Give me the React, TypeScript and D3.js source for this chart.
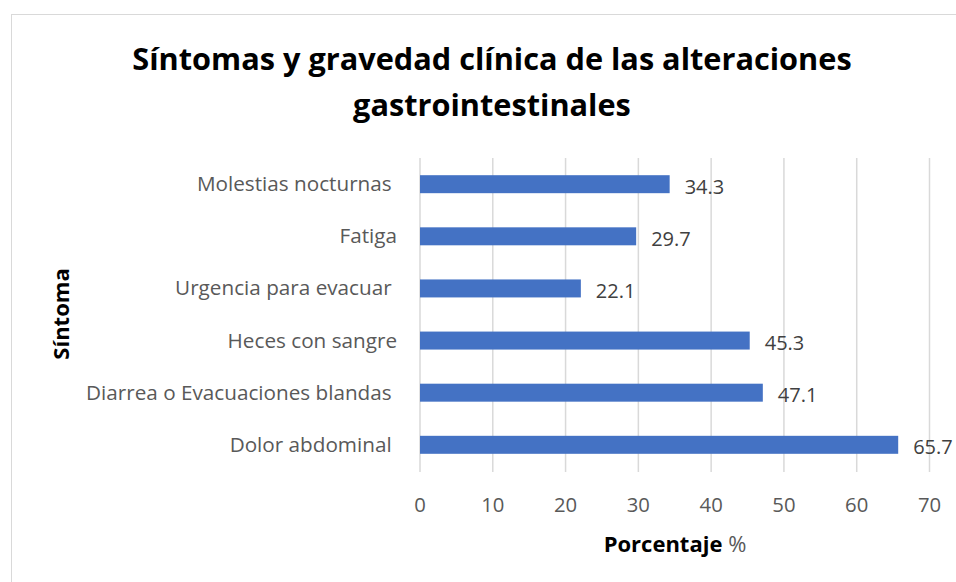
import React from "react";
import * as d3 from "d3";

const categories = [
  "Molestias nocturnas ",
  "Fatiga",
  "Urgencia para evacuar ",
  "Heces con sangre",
  "Diarrea o Evacuaciones blandas ",
  "Dolor abdominal ",
];
const values = [34.3, 29.7, 22.1, 45.3, 47.1, 65.7];
const ticks = [0, 10, 20, 30, 40, 50, 60, 70];

const W = 956;
const H = 582;
const FONT = "'Open Sans', sans-serif";

export default function App() {
  const x = d3.scaleLinear().domain([0, 70]).range([420, 929.5]);
  const y = d3.scaleBand<string>().domain(categories).range([158, 471]).paddingInner(0.655).paddingOuter(0.33);

  return (
    <svg width={W} height={H} style={{ position: "absolute", left: 0, top: 0 }}>
      <rect x={0} y={0} width={W} height={H} fill="#fff" />
      <rect x={11.5} y={14.5} width={W + 10} height={H + 10} fill="#fff" stroke="#d9d9d9" strokeWidth={1} />
      <text x={492} y={70} textAnchor="middle" fontFamily={FONT} fontWeight="bold" fontSize={30.7} fill="#000">
        Síntomas y gravedad clínica de las alteraciones
      </text>
      <text x={492} y={116} textAnchor="middle" fontFamily={FONT} fontWeight="bold" fontSize={30.7} fill="#000">
        gastrointestinales
      </text>
      {ticks.map((t) => (
        <g key={t}>
          <line x1={x(t)} x2={x(t)} y1={158} y2={472} stroke="#d9d9d9" strokeWidth={1.5} />
          <text x={x(t)} y={512} textAnchor="middle" fontFamily={FONT} fontSize={20.3} fill="#595959">
            {t}
          </text>
        </g>
      ))}
      {categories.map((c, i) => (
        <g key={c}>
          <rect x={x(0)} y={y(c)!} width={x(values[i]) - x(0)} height={y.bandwidth()} fill="#4472c4" />
          <text
            x={397}
            y={y(c)! + y.bandwidth() / 2 + 7}
            textAnchor="end"
            fontFamily={FONT}
            fontSize={20.7}
            fill="#595959"
            style={{ whiteSpace: "pre" }}
          >
            {c}
          </text>
          <text x={x(values[i]) + 15} y={y(c)! + y.bandwidth() / 2 + 9.5} fontFamily={FONT} fontSize={20} fill="#404040">
            {values[i].toFixed(1)}
          </text>
        </g>
      ))}
      <text x={675} y={552} textAnchor="middle" fontFamily={FONT} fontWeight="bold" fontSize={22} fill="#000">
        Porcentaje <tspan fontWeight="normal" fill="#595959">%</tspan>
      </text>
      <text transform={`translate(69,314) rotate(-90)`} textAnchor="middle" fontFamily={FONT} fontWeight="bold" fontSize={22} fill="#000">
        Síntoma
      </text>
    </svg>
  );
}
